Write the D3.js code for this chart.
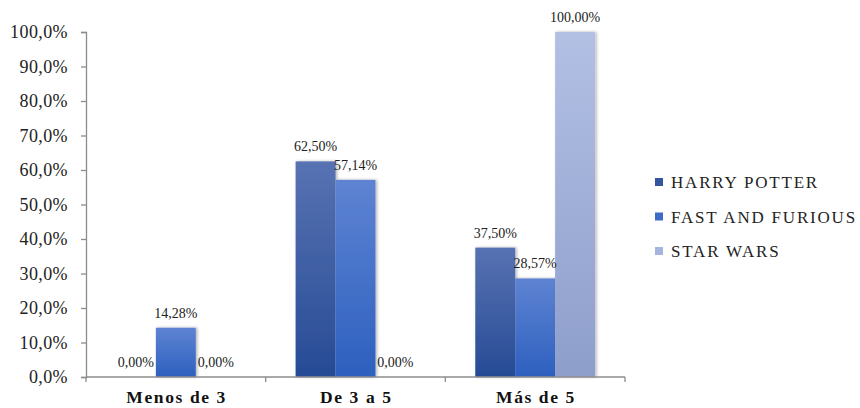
<!DOCTYPE html>
<html><head><meta charset="utf-8">
<script src="https://cdn.jsdelivr.net/npm/d3@7"></script>
<style>body{margin:0;background:#fff}svg{display:block}svg text{font-family:"Liberation Serif",serif}</style>
</head><body>
<svg id="c" width="860" height="408"></svg>
<script>
const categories = ["Menos de 3", "De 3 a 5", "Más de 5"];
const seriesNames = ["HARRY POTTER", "FAST AND FURIOUS", "STAR WARS"];
const harryPotter = [0.00, 62.50, 37.50];
const fastFurious = [14.28, 57.14, 28.57];
const starWars = [0.00, 0.00, 100.00];
const yTicks = [0,10,20,30,40,50,60,70,80,90,100];
const seriesValues = [harryPotter, fastFurious, starWars];
const colors = [
  {top:"#5872b2", bottom:"#264b95", legend:"#34569f"},
  {top:"#5e83d2", bottom:"#2d60bf", legend:"#3c6cc8"},
  {top:"#b2c0e4", bottom:"#8e9ecb", legend:"#a5b4dc"}
];
const fmt = v => v.toFixed(2).replace(".", ",") + "%";
const fmtTick = v => v.toFixed(1).replace(".", ",") + "%";

const svg = d3.select("#c");
const pLeft = 86, pRight = 625, pTop = 32, pBottom = 377;
const font = "Liberation Serif";

const defs = svg.append("defs");
colors.forEach((c,i)=>{
  const g = defs.append("linearGradient").attr("id","g"+i).attr("x1",0).attr("y1",0).attr("x2",0).attr("y2",1);
  g.append("stop").attr("offset","0%").attr("stop-color",c.top);
  g.append("stop").attr("offset","100%").attr("stop-color",c.bottom);
});
const f = defs.append("filter").attr("id","sh").attr("x","-20%").attr("y","-5%").attr("width","140%").attr("height","110%");
f.append("feDropShadow").attr("dx",1.5).attr("dy",0).attr("stdDeviation",1.5).attr("flood-color","#000").attr("flood-opacity",0.3);

const x0 = d3.scaleBand().domain(categories).range([pLeft, pRight]).padding(0);
const x1 = d3.scaleBand().domain(seriesNames).range([0, x0.bandwidth()]).paddingInner(0).paddingOuter(0.75);
const y = d3.scaleLinear().domain([0,100]).range([pBottom, pTop]);

// y axis
const yAxis = d3.axisLeft(y).tickValues(yTicks).tickFormat(fmtTick).tickSize(5).tickPadding(13);
const ya = svg.append("g").attr("transform",`translate(${pLeft},0)`).call(yAxis);
ya.attr("font-family", null).attr("font-size", null);
ya.select(".domain").attr("stroke","#8c8c8c").attr("stroke-width",1.3);
ya.selectAll(".tick line").attr("stroke","#8c8c8c").attr("stroke-width",1.3);
ya.selectAll(".tick text").style("font-family",font).style("font-size","18px").attr("fill","#222").attr("letter-spacing",0.4);

// bars
const groups = svg.append("g").selectAll("g").data(categories).join("g")
  .attr("transform", d=>`translate(${x0(d)},0)`);
groups.each(function(cat, ci){
  const g = d3.select(this);
  seriesNames.forEach((s, si)=>{
    const v = seriesValues[si][ci];
    if (v > 0) {
      g.append("rect").attr("x", x1(s)).attr("y", y(v)).attr("width", x1.bandwidth()).attr("height", y(0)-y(v))
        .attr("fill", `url(#g${si})`).attr("filter","url(#sh)");
    }
  });
});
groups.each(function(cat, ci){
  const g = d3.select(this);
  seriesNames.forEach((s, si)=>{
    const v = seriesValues[si][ci];
    g.append("text").attr("x", x1(s)+x1.bandwidth()/2).attr("y", y(v)-10)
      .attr("text-anchor","middle").style("font-family",font).style("font-size","14px").attr("fill","#222")
      .text(fmt(v));
  });
});

// x axis
const xa = svg.append("g").attr("transform",`translate(0,${pBottom})`);
xa.append("line").attr("x1",pLeft).attr("x2",pRight).attr("stroke","#8c8c8c").attr("stroke-width",1.3);
const bounds = categories.map(c=>x0(c)).concat([pRight]);
xa.selectAll("line.t").data(bounds).join("line").attr("class","t")
  .attr("x1",d=>d).attr("x2",d=>d).attr("y1",0).attr("y2",5).attr("stroke","#8c8c8c").attr("stroke-width",1.3);
xa.selectAll("text").data(categories).join("text")
  .attr("x", d=>x0(d)+x0.bandwidth()/2 + 0.8).attr("y", 26)
  .attr("text-anchor","middle").style("font-family",font).style("font-size","17.5px").attr("font-weight","bold").attr("fill","#111")
  .attr("letter-spacing",1.6)
  .text(d=>d);

// legend
const lg = svg.append("g").attr("transform","translate(655,0)");
seriesNames.forEach((s,i)=>{
  const cy = 182 + i*34.5;
  lg.append("rect").attr("x",0).attr("y",cy-4).attr("width",8).attr("height",8).attr("fill",colors[i].legend);
  lg.append("text").attr("x",16).attr("y",cy+6).style("font-family",font).style("font-size","17px").attr("fill","#222")
    .attr("letter-spacing",1.8).text(s);
});
</script>
</body></html>
